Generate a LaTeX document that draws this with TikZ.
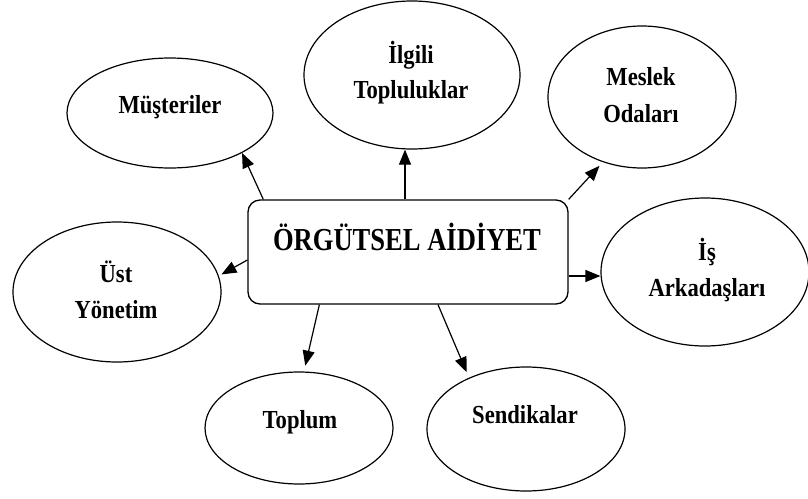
\documentclass[tikz,border=0pt]{standalone}
\usepackage{fontspec}
\setmainfont{Liberation Serif}[FakeStretch=0.83]
\newfontfamily\labelfont{Liberation Serif}[FakeStretch=0.87]
\usetikzlibrary{shapes.geometric,arrows.meta}

\begin{document}
\begin{tikzpicture}[x=1pt,y=-1pt,
  bubble/.style 2 args={draw, ellipse, line width=1.2pt, inner sep=0pt,
    minimum width=#1, minimum height=#2},
  centerbox/.style={draw, rounded corners=12pt, line width=1.3pt, inner sep=0pt,
    minimum width=320pt, minimum height=104pt},
  lbl/.style={font=\labelfont\fontsize{26}{30}\selectfont\bfseries, anchor=base, inner sep=0pt},
  ttlstyle/.style={font=\fontsize{32}{38}\selectfont\bfseries, anchor=base, inner sep=0pt},
  arr/.style={-{Triangle[length=15pt,width=12pt]}, line width=1.2pt}]

\fill[white] (0,0) rectangle (808,498);
\useasboundingbox (0,0) rectangle (808,498);

% central box
\node[centerbox] (box) at (408,252) {};
\node[ttlstyle] (ttl) at (407,250) {ÖRGÜTSEL AİDİYET};

% surrounding groups
\node[bubble={206pt}{110pt}] (mus) at (170,113) {};
\node[lbl] (musA) at (170,113) {Müşteriler};

\node[bubble={216pt}{148pt}] (ilg) at (412,75) {};
\node[lbl] (ilgA) at (411,63) {İlgili};
\node[lbl] (ilgB) at (411,98) {Topluluklar};

\node[bubble={188pt}{142pt}] (mes) at (642,97) {};
\node[lbl] (mesA) at (641,85) {Meslek};
\node[lbl] (mesB) at (641,122) {Odaları};

\node[bubble={208pt}{148pt}] (ias) at (705,272) {};
\node[lbl] (iasA) at (707,260) {İş};
\node[lbl] (iasB) at (707,296) {Arkadaşları};

\node[bubble={208pt}{140pt}] (ust) at (117,292) {};
\node[lbl] (ustA) at (116,282) {Üst};
\node[lbl] (ustB) at (116,318) {Yönetim};

\node[bubble={188pt}{112pt}] (top) at (299,428) {};
\node[lbl] (topA) at (300,428) {Toplum};

\node[bubble={198pt}{124pt}] (sen) at (526,429) {};
\node[lbl] (senA) at (525,423) {Sendikalar};

% connectors
\draw[arr] (box.160) -- (mus.-29);
\draw[arr] ([xshift=-3pt]box.north) -- ([xshift=-3pt]box.north |- ilg.south);
\draw[arr, shorten >=5pt] (box.north east) -- (mes.-121);
\draw[arr] ([yshift=-24pt]box.east) -- ([yshift=-24pt]box.east -| ias.west);
\draw[arr, shorten >=3pt] ([yshift=-8pt]box.west) -- (ust.9);
\draw[arr, shorten >=6pt] ([xshift=72pt]box.south west) -- (top.85);
\draw[arr, shorten >=6pt] ([xshift=30pt]box.south) -- (sen.138);
\end{tikzpicture}
\end{document}
